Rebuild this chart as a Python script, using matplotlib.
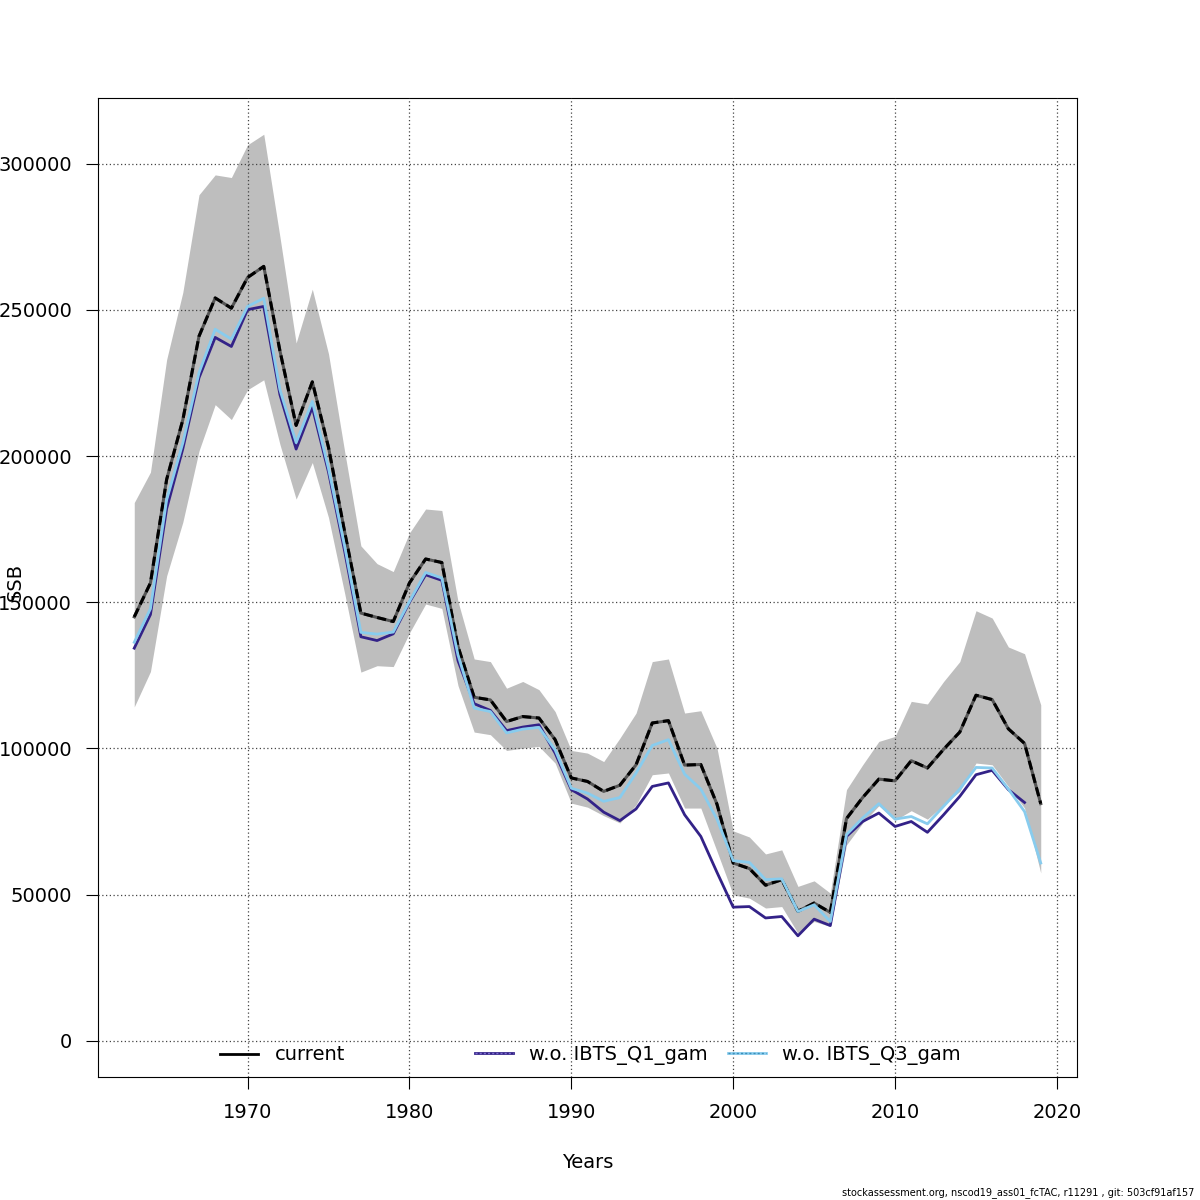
import numpy as np
import matplotlib
matplotlib.use("Agg")
import matplotlib.pyplot as plt
from matplotlib.lines import Line2D
from matplotlib.legend import Legend

# ---- data ----
years = list(range(1963, 2020))

ssb_current = [145000, 156600, 192000, 212400, 241000, 254100, 250600, 261100, 264900, 236000,
               210500, 225400, 203000, 174000, 146300, 144800, 143400, 156600, 164800, 163600,
               134900, 117500, 116600, 109200, 110900, 110400, 103000, 89900, 88700, 85300,
               87400, 94400, 108700, 109500, 94300, 94500, 80900, 60800, 58900, 53200,
               55100, 44300, 47100, 43900, 76000, 83200, 89500, 88900, 95800, 93300,
               99700, 105600, 118200, 116700, 106700, 101700, 81100]

ssb_low = [114200, 126300, 159000, 177400, 201800, 217600, 212500, 222700, 226100, 204000,
           185300, 197800, 179000, 153000, 126100, 128300, 128000, 139500, 149400, 147900,
           121500, 105600, 104700, 99300, 100100, 100700, 95000, 81300, 79900, 77000,
           74500, 80700, 91000, 91600, 79600, 79600, 64800, 49900, 48800, 45400,
           45900, 36800, 40800, 39100, 67000, 74500, 80400, 75400, 78700, 75800,
           80700, 85300, 95000, 94400, 87000, 79600, 57400]

ssb_high = [184100, 194500, 233000, 256000, 289400, 296200, 295300, 306500, 310100, 275000,
            238700, 257100, 235000, 201500, 169300, 163200, 160500, 173700, 181900, 181400,
            150300, 130600, 129700, 120600, 122900, 120100, 112600, 99300, 98400, 95500,
            103500, 112100, 129700, 130600, 112100, 112900, 100100, 71800, 69700, 63900,
            65300, 52800, 54700, 50500, 85900, 94400, 102400, 104100, 116100, 115200,
            122900, 129700, 147100, 144600, 134700, 132400, 114900]

# w.o. IBTS_Q1_gam ends one year earlier
years_q1 = list(range(1963, 2019))
ssb_q1 = [134300, 145800, 182000, 202500, 226800, 240600, 237500, 250100, 251200, 221000,
          202400, 216700, 194500, 167400, 138200, 136900, 139200, 150000, 159400, 157500,
          130000, 115300, 113000, 106100, 107300, 108100, 98400, 85900, 82700, 78200,
          75300, 79300, 87000, 88200, 77300, 69900, 57600, 45700, 45900, 42000,
          42500, 35900, 41600, 39400, 69900, 75000, 77900, 73300, 75000, 71300,
          77300, 83600, 91000, 92500, 85900, 81500]

ssb_q3 = [136300, 147800, 185000, 204500, 228500, 243400, 240000, 251200, 254000, 222700,
          204600, 218700, 195800, 169100, 139700, 139100, 139800, 150300, 160200, 158300,
          132000, 113800, 112600, 105300, 106600, 107200, 99500, 86400, 84700, 81900,
          83200, 91600, 101000, 103000, 91200, 86100, 75800, 61600, 61000, 55100,
          55400, 44200, 46500, 40800, 70500, 76200, 81100, 75800, 76700, 74200,
          80200, 86100, 93500, 93300, 86100, 78400, 60800]

x_ticks = [1970, 1980, 1990, 2000, 2010, 2020]
y_ticks = [0, 50000, 100000, 150000, 200000, 250000, 300000]
labels = ["current", "w.o. IBTS_Q1_gam", "w.o. IBTS_Q3_gam"]
footer = "stockassessment.org, nscod19_ass01_fcTAC, r11291 , git: 503cf91af157"

COL_Q1 = "#332288"
COL_Q3 = "#88CCEE"
BAND = "#BEBEBE"

plt.rcParams["font.family"] = ["DejaVu Sans"]
plt.rcParams["font.size"] = 14

fig = plt.figure(figsize=(12, 12), dpi=100)
ax = fig.add_axes([98 / 1200, 1 - 1077 / 1200, 979 / 1200, 979 / 1200])

ax.fill_between(years, ssb_low, ssb_high, color=BAND, lw=0, zorder=1)

ax.plot(years, ssb_current, color="#555555", lw=2.2, zorder=3)
ax.plot(years, ssb_current, color="black", lw=2.2, ls=(0, (3, 1.5)), zorder=3.1)
ax.plot(years_q1, ssb_q1, color=COL_Q1, lw=2.0, zorder=3.2)
ax.plot(years, ssb_q3, color=COL_Q3, lw=2.0, zorder=3.3)

# R-style 4% axis extension, y range starts at 0
xr = years[-1] - years[0]
ax.set_xlim(years[0] - 0.04 * xr, years[-1] + 0.04 * xr)
ymax = max(ssb_high)
ax.set_ylim(-0.04 * ymax, ymax * 1.04)

ax.set_xticks(x_ticks)
ax.set_yticks(y_ticks)
ax.set_yticklabels([str(v) for v in y_ticks])
ax.tick_params(axis="both", length=8.6, width=0.8, labelsize=14)
ax.tick_params(axis="y", pad=10)
ax.tick_params(axis="x", pad=10)

ax.set_axisbelow(False)
ax.grid(True, ls=(0, (1, 2)), color="#444444", lw=0.9, zorder=2)
for s in ax.spines.values():
    s.set_linewidth(0.8)

# legend: three separate entries, placed like the R horizontal legend
h_cur = Line2D([], [], color="black", lw=2)
h_q1 = (Line2D([], [], color=COL_Q1, lw=2), Line2D([], [], color="#7F6FD0", lw=1, ls=(0, (1.5, 1.5))))
h_q3 = (Line2D([], [], color=COL_Q3, lw=2), Line2D([], [], color="#3D8FB8", lw=1, ls=(0, (1.5, 1.5))))
xs = [(220 - 98) / 979, (475 - 98) / 979, (728 - 98) / 979]
for i, (h, lab) in enumerate(zip([h_cur, h_q1, h_q3], labels)):
    lg = Legend(ax, [h], [lab], loc="center left", bbox_to_anchor=(xs[i], 22 / 979),
                frameon=False, borderpad=0, borderaxespad=0, handlelength=1.95,
                handletextpad=0.85, fontsize=14)
    ax.add_artist(lg)

fig.text(587.5 / 1200, 1 - 1162 / 1200, "Years", ha="center", va="center", fontsize=14)
fig.text(15 / 1200, 1 - 582 / 1200, "SSB", rotation=90, ha="center", va="center", fontsize=14)
fig.text(1194 / 1200, 1 - 1193 / 1200, footer, ha="right", va="center", fontsize=7)

fig.savefig("out.png", dpi=100)
